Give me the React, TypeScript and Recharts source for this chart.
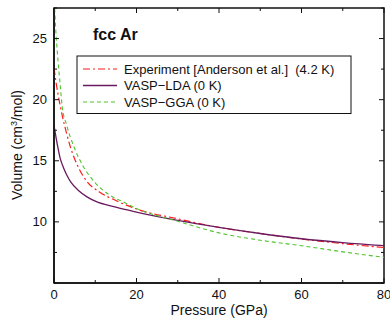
import React from 'react';
import { LineChart, Line, XAxis, YAxis, Customized } from 'recharts';

const pressureExp = [0, 0.5, 1, 2, 3, 4, 6, 8, 11, 15, 20, 30, 40, 50, 60, 70, 80];
const volumeExp = [22.6, 21.4, 20.4, 18.7, 17.3, 16.1, 14.4, 13.3, 12.45, 11.75, 11.05, 10.25, 9.55, 9.05, 8.6, 8.22, 7.9];

const pressureLDA = [0, 0.5, 1, 1.5, 2, 3, 4, 6, 8, 10, 15, 20, 30, 40, 50, 60, 70, 80];
const volumeLDA = [17.9, 16.9, 16.0, 15.2, 14.7, 13.9, 13.3, 12.55, 12.05, 11.7, 11.2, 10.8, 10.12, 9.55, 9.05, 8.62, 8.3, 8.05];

const pressureGGA = [0, 0.5, 1, 1.5, 2, 3, 5, 7, 10, 13, 17, 20, 30, 40, 50, 60, 70, 80];
const volumeGGA = [28.6, 25.3, 23.1, 21.2, 19.4, 18.0, 16.0, 14.6, 13.2, 12.3, 11.6, 11.1, 10.05, 9.1, 8.5, 8.05, 7.55, 7.1];

const xTicks = [0, 10, 20, 30, 40, 50, 60, 70, 80];
const xMajor = [0, 20, 40, 60, 80];
const yTicks = [5, 7.5, 10, 12.5, 15, 17.5, 20, 22.5, 25, 27.5];
const yMajor = [10, 15, 20, 25];
const xDomain = [0, 80];
const yDomain = [5, 27.5];

const seriesNames = ['Experiment [Anderson et al.]  (4.2 K)', 'VASP\u2212LDA (0 K)', 'VASP\u2212GGA (0 K)'];
const titleText = 'fcc Ar';

const toRows = (xs: number[], ys: number[]) => xs.map((p, i) => ({ p, v: ys[i] }));

const series = [
  { name: seriesNames[0], data: toRows(pressureExp, volumeExp), color: '#ff1a1a', dash: '7 3 2 3', width: 1.2 },
  { name: seriesNames[1], data: toRows(pressureLDA, volumeLDA), color: '#6a1a5e', dash: undefined, width: 1.3 },
  { name: seriesNames[2], data: toRows(pressureGGA, volumeGGA), color: '#4fc42f', dash: '4 3', width: 1.1 },
];

const W = 390;
const H = 325;
const MARGIN = { top: 8, right: 6, bottom: 12, left: 0 };
const Y_AXIS_W = 54;
const X_AXIS_H = 30;
const PLOT = {
  left: MARGIN.left + Y_AXIS_W,
  right: W - MARGIN.right,
  top: MARGIN.top,
  bottom: H - MARGIN.bottom - X_AXIS_H,
};
const sx = (v: number) => PLOT.left + ((v - xDomain[0]) / (xDomain[1] - xDomain[0])) * (PLOT.right - PLOT.left);
const sy = (v: number) => PLOT.bottom - ((v - yDomain[0]) / (yDomain[1] - yDomain[0])) * (PLOT.bottom - PLOT.top);

const FONT = '"Liberation Sans", Arial, Helvetica, sans-serif';
const AX = '#111111';

const BottomTick = (props: any) => {
  const { x, y, payload } = props;
  const major = xMajor.includes(payload.value);
  return (
    <g>
      <line x1={x} x2={x} y1={y} y2={y - (major ? 5 : 3)} stroke={AX} strokeWidth={1} />
      {major && (
        <text x={x} y={y + 16} textAnchor="middle" fontSize={13} fontFamily={FONT} fill="#111">
          {payload.value}
        </text>
      )}
    </g>
  );
};

const LeftTick = (props: any) => {
  const { x, y, payload } = props;
  const major = yMajor.includes(payload.value);
  return (
    <g>
      <line x1={x} x2={x + (major ? 5 : 3)} y1={y} y2={y} stroke={AX} strokeWidth={1} />
      {major && (
        <text x={x - 7} y={y + 4.5} textAnchor="end" fontSize={13} fontFamily={FONT} fill="#111">
          {payload.value}
        </text>
      )}
    </g>
  );
};

const Overlay = () => {
  const bx = 77;
  const by = 56;
  const bw = 274;
  const bh = 57.5;
  const rowY = [69, 85.5, 102];
  return (
    <g>
      <rect
        x={PLOT.left}
        y={PLOT.top}
        width={PLOT.right - PLOT.left}
        height={PLOT.bottom - PLOT.top}
        fill="none"
        stroke={AX}
        strokeWidth={1.5}
      />
      {xTicks.map((t) => (
        <line key={'tx' + t} x1={sx(t)} x2={sx(t)} y1={PLOT.top} y2={PLOT.top + (xMajor.includes(t) ? 5 : 3)} stroke={AX} strokeWidth={1} />
      ))}
      {yTicks.map((t) => (
        <line key={'ry' + t} x1={PLOT.right} x2={PLOT.right - (yMajor.includes(t) ? 5 : 3)} y1={sy(t)} y2={sy(t)} stroke={AX} strokeWidth={1} />
      ))}
      <text x={93} y={39.5} fontSize={16} fontWeight="bold" fontFamily={FONT} fill="#111">
        {titleText}
      </text>
      <rect x={bx} y={by} width={bw} height={bh} fill="#fff" stroke="#111" strokeWidth={1} />
      {series.map((s, i) => (
        <g key={s.name}>
          <line x1={83} x2={117} y1={rowY[i]} y2={rowY[i]} stroke={s.color} strokeWidth={s.width} strokeDasharray={s.dash} />
          <text x={124} y={rowY[i] + 4.5} fontSize={13} fontFamily={FONT} fill="#111" style={{ whiteSpace: 'pre' }}>
            {s.name}
          </text>
        </g>
      ))}
      <text x={(PLOT.left + PLOT.right) / 2} y={315} textAnchor="middle" fontSize={14} fontFamily={FONT} fill="#111">
        Pressure (GPa)
      </text>
      <text transform="translate(22,145) rotate(-90)" textAnchor="middle" fontSize={14} fontFamily={FONT} fill="#111">
        Volume (cm
        <tspan dy={-5} fontSize={9}>3</tspan>
        <tspan dy={5}>/mol)</tspan>
      </text>
    </g>
  );
};

export default function App() {
  return (
    <div style={{ position: 'absolute', left: 0, top: 0, width: W, height: H, background: '#fff' }}>
      <LineChart width={W} height={H} margin={MARGIN}>
        <XAxis
          type="number"
          dataKey="p"
          domain={xDomain}
          ticks={xTicks}
          interval={0}
          tickSize={0}
          tickMargin={0}
          tickLine={false}
          tick={<BottomTick />}
          axisLine={{ stroke: AX, strokeWidth: 1.5 }}
          height={X_AXIS_H}
          allowDataOverflow
        />
        <YAxis
          type="number"
          domain={yDomain}
          ticks={yTicks}
          interval={0}
          tickSize={0}
          tickMargin={0}
          tickLine={false}
          tick={<LeftTick />}
          axisLine={{ stroke: AX, strokeWidth: 1.5 }}
          width={Y_AXIS_W}
          allowDataOverflow
        />
        {series.map((s) => (
          <Line
            key={s.name}
            data={s.data}
            dataKey="v"
            type="monotone"
            stroke={s.color}
            strokeWidth={s.width}
            strokeDasharray={s.dash}
            dot={false}
            activeDot={false}
            isAnimationActive={false}
            name={s.name}
          />
        ))}
        <Customized component={<Overlay />} />
      </LineChart>
    </div>
  );
}
